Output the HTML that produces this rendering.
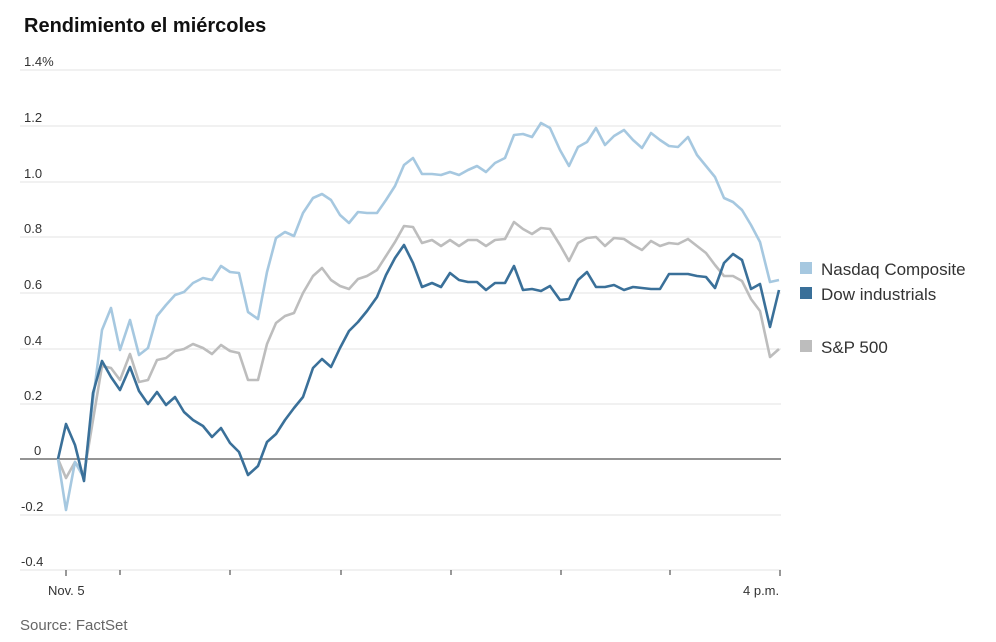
<!DOCTYPE html>
<html><head><meta charset="utf-8"><style>
body{margin:0;background:#fff;}
svg{display:block;font-family:"Liberation Sans",sans-serif;}
</style></head><body>
<svg width="996" height="642" viewBox="0 0 996 642">
<text x="24" y="32" font-size="20" font-weight="bold" fill="#111">Rendimiento el miércoles</text>
<g stroke="#e3e3e3" stroke-width="1">
<line x1="20" y1="70" x2="781" y2="70"/><line x1="20" y1="126" x2="781" y2="126"/>
<line x1="20" y1="182" x2="781" y2="182"/><line x1="20" y1="237" x2="781" y2="237"/>
<line x1="20" y1="293" x2="781" y2="293"/><line x1="20" y1="349" x2="781" y2="349"/>
<line x1="20" y1="404" x2="781" y2="404"/><line x1="20" y1="515" x2="781" y2="515"/>
<line x1="20" y1="570" x2="781" y2="570"/>
</g>
<line x1="20" y1="459" x2="781" y2="459" stroke="#555" stroke-width="1.3"/>
<g font-size="13" fill="#333">
<text x="24" y="66">1.4%</text><text x="24" y="122">1.2</text><text x="24" y="178">1.0</text>
<text x="24" y="233">0.8</text><text x="24" y="289">0.6</text><text x="24" y="345">0.4</text>
<text x="24" y="400">0.2</text><text x="34" y="455">0</text><text x="21" y="511">-0.2</text>
<text x="21" y="566">-0.4</text>
<text x="48" y="595">Nov. 5</text><text x="743" y="595">4 p.m.</text>
</g>
<g stroke="#333" stroke-width="1">
<line x1="66" y1="570" x2="66" y2="576"/><line x1="120" y1="570" x2="120" y2="575"/>
<line x1="230" y1="570" x2="230" y2="575"/><line x1="341" y1="570" x2="341" y2="575"/>
<line x1="451" y1="570" x2="451" y2="575"/><line x1="561" y1="570" x2="561" y2="575"/>
<line x1="670" y1="570" x2="670" y2="575"/><line x1="780" y1="570" x2="780" y2="576"/>
</g>
<text x="20" y="630" font-size="15" fill="#666">Source: FactSet</text>
<g fill="none" stroke-width="2.6" stroke-linejoin="round">
<polyline stroke="#bdbdbd" points="58,459 66,478 75,462 84,474 93,420 102,366 111,368 120,380 130,354 139,382 148,380 157,360 166,358 175,351 184,349 193,344 203,348 212,354 221,345 230,351 239,353 248,380 258,380 267,344 276,323 285,316 294,313 303,293 313,276 322,268 331,280 340,286 349,289 358,279 367,276 377,270 386,256 395,242 404,226 413,227 422,243 432,240 441,246 450,240 459,246 468,240 477,240 486,246 495,240 505,239 514,222 523,229 532,234 541,228 550,229 560,245 569,261 578,243 587,238 596,237 605,246 614,238 624,239 633,245 642,250 651,241 660,246 669,243 678,244 688,239 697,246 706,253 715,265 724,276 733,276 742,281 751,299 760,311 770,357 779,349"/>
<polyline stroke="#a6c8e0" points="58,459 66,510 75,462 84,478 93,400 102,330 111,308 120,350 130,320 139,355 148,348 157,316 166,305 175,295 184,292 193,283 203,278 212,280 221,266 230,272 239,273 248,312 258,319 267,272 276,238 285,232 294,236 303,213 313,198 322,194 331,200 340,215 349,223 358,212 367,213 377,213 386,200 395,186 404,165 413,158 422,174 432,174 441,175 450,172 459,175 468,170 477,166 486,172 495,163 505,158 514,135 523,134 532,137 541,123 550,128 560,150 569,166 578,147 587,142 596,128 605,145 614,136 624,130 633,140 642,148 651,133 660,140 669,146 678,147 688,137 697,155 706,166 715,177 724,198 733,202 742,210 751,225 760,242 770,282 779,280"/>
<polyline stroke="#3a7099" points="58,459 66,424 75,445 84,481 93,393 102,361 111,377 120,390 130,367 139,391 148,404 157,392 166,405 175,397 184,412 193,420 203,426 212,437 221,428 230,443 239,452 248,475 258,466 267,442 276,434 285,420 294,408 303,397 313,368 322,359 331,367 340,348 349,331 358,322 367,311 377,297 386,275 395,258 404,245 413,263 422,287 432,283 441,287 450,273 459,280 468,282 477,282 486,290 495,283 505,283 514,266 523,290 532,289 541,291 550,286 560,300 569,299 578,280 587,272 596,287 605,287 614,285 624,290 633,287 642,288 651,289 660,289 669,274 678,274 688,274 697,276 706,277 715,288 724,263 733,254 742,260 751,289 760,284 770,327 779,290"/>
</g>
<rect x="800" y="262" width="12" height="12" fill="#a6c8e0"/>
<rect x="800" y="287" width="12" height="12" fill="#3a7099"/>
<rect x="800" y="340" width="12" height="12" fill="#bdbdbd"/>
<g font-size="17" fill="#333">
<text x="821" y="275">Nasdaq Composite</text>
<text x="821" y="300">Dow industrials</text>
<text x="821" y="353">S&amp;P 500</text>
</g>
</svg>
</body></html>
